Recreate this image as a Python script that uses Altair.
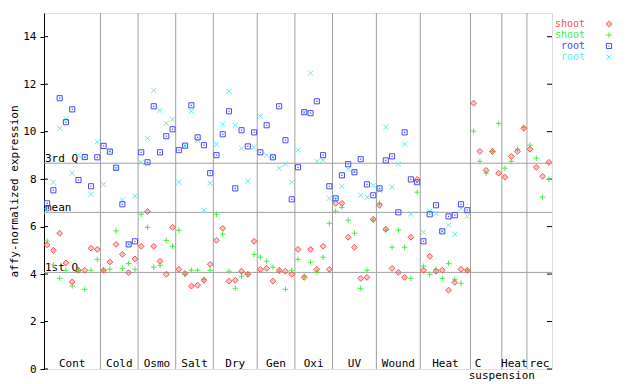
import altair as alt
import pandas as pd

# ---------------- data ----------------
groups = ["Cont", "Cold", "Osmo", "Salt", "Dry", "Gen", "Oxi", "UV",
          "Wound", "Heat", "C", "Heat", "rec"]
counts = [9, 6, 6, 6, 7, 6, 6, 7, 7, 8, 5, 4, 4]

shoot_red = [5.23, 5.00, 5.72, 4.47, 3.67, 4.16, 4.16, 5.09, 5.04,
             4.16, 4.51, 5.25, 4.83, 4.06, 4.64,
             5.17, 6.64, 5.17, 4.54, 3.99, 5.97,
             4.20, 4.03, 3.49, 3.53, 3.74, 4.41,
             5.42, 5.93, 3.70, 3.74, 4.12, 3.99, 5.38,
             4.20, 4.24, 3.70, 4.16, 4.12, 3.99,
             5.04, 3.86, 5.04, 4.20, 5.17, 4.20,
             6.98, 6.98, 5.55, 5.13, 3.82, 3.86, 6.31,
             6.90, 5.89, 4.24, 4.07, 3.86, 5.55, 7.99,
             4.16, 4.75, 4.12, 4.16, 3.32, 3.65, 4.20, 4.16,
             11.20, 9.17, 8.37, 9.17, 8.25,
             8.08, 8.96, 9.17, 10.14,
             9.26, 8.50, 8.12, 8.71]

shoot_green = [5.39, 4.38, 3.82, 4.16, 3.50, 4.16, 3.36, 4.16, 4.62,
               4.16, 4.20, 5.82, 4.24, 4.45, 4.20,
               6.52, 5.97, 4.29, 4.37, 5.42, 5.17,
               5.85, 3.99, 4.16, 4.16, 3.78, 4.16,
               6.52, 5.68, 4.12, 3.40, 3.91, 3.99, 4.83,
               4.71, 4.54, 4.29, 4.12, 3.36, 4.16,
               4.62, 3.91, 4.50, 4.08, 4.71, 6.14,
               6.65, 6.81, 6.27, 5.72, 3.40, 4.16, 6.27,
               6.98, 5.85, 5.13, 5.85, 5.13, 3.82, 7.45,
               4.33, 3.99, 4.20, 3.82, 4.45, 3.78, 3.61, 4.16,
               10.02, 8.75, 8.25, 9.17, 10.35,
               8.46, 8.75, 9.26, 10.19,
               9.43, 8.88, 7.24, 7.99]

root_blue = [6.98, 7.53, 11.41, 10.40, 10.94, 7.96, 8.93, 7.70, 8.92,
             9.40, 9.16, 8.48, 6.94, 5.25, 5.38,
             9.13, 8.71, 11.07, 9.13, 9.81, 10.10,
             9.22, 9.41, 11.11, 9.76, 9.43, 8.25,
             9.01, 9.89, 10.86, 7.61, 10.06, 9.38, 9.97,
             9.13, 10.27, 8.92, 11.07, 9.64, 7.15,
             8.50, 10.82, 10.78, 11.28, 9.01, 7.70,
             7.19, 8.16, 8.63, 8.29, 8.84, 7.78, 7.32,
             7.61, 8.79, 8.96, 6.60, 9.97, 7.99, 7.87,
             5.38, 6.52, 6.90, 5.80, 6.43, 6.48, 6.94, 6.69]

root_cyan = [6.66, 7.87, 10.14, 10.53, 8.25, 9.02, 8.93, 7.36, 9.57,
             7.78, 9.20, 8.45, 7.12, 5.25, 7.28,
             8.71, 9.72, 11.74, 10.90, 10.35, 10.52,
             7.87, 9.41, 10.86, 9.64, 6.69, 7.83,
             9.47, 10.31, 11.70, 10.27, 9.30, 7.91, 9.34,
             10.65, 9.01, 8.92, 8.46, 8.63, 7.87,
             9.22, 10.80, 12.46, 8.75, 8.80, 7.19,
             7.15, 7.70, 8.42, 8.33, 7.32, 7.24, 7.74,
             7.53, 10.19, 7.66, 8.63, 9.47, 6.52, 7.87,
             5.76, 6.65, 6.56, 5.80, 6.06, 5.68, 6.77, 6.43]

q_labels = ["3rd Q", "mean", "1st Q"]
q_values = [8.67, 6.60, 4.07]

y_ticks = [0, 2, 4, 6, 8, 10, 12, 14]
legend_labels = ["shoot", "shoot", "root", "root"]

# ---------------- styling ----------------
FONT = "DejaVu Sans Mono"
FS = 11
W, H = 508, 356
RED, GREEN, BLUE, CYAN = "#ff5050", "#44ee44", "#4848ff", "#55eeee"
GREY = "#a0a0a0"

n_total = sum(counts)
starts, bounds, centers = [], [], []
s = 1
for c in counts:
    starts.append(s)
    centers.append(s + (c - 1) / 2)
    s += c
    bounds.append(s - 0.5)
bounds = bounds[:-1]

xscale = alt.Scale(domain=[0.5, n_total + 0.5], nice=False, zero=False)
yscale = alt.Scale(domain=[0, 15], nice=False, zero=False)

yaxis = alt.Axis(values=y_ticks, tickSize=4, tickColor="black",
                 domainColor="black", grid=False, labelFont=FONT,
                 labelFontSize=FS, labelColor="black", labelPadding=4,
                 title="affy-normalized expression", titleFont=FONT,
                 titleFontSize=FS, titleFontWeight="normal",
                 titleColor="black", titlePadding=3)


def series_df(vals):
    return pd.DataFrame({"i": list(range(1, len(vals) + 1)), "v": vals})


X = alt.X("i:Q", scale=xscale, axis=None)
Y = alt.Y("v:Q", scale=yscale, axis=yaxis)

# vertical group separators
bdf = pd.DataFrame({"i": bounds})
vlines = alt.Chart(bdf).mark_rule(color=GREY, strokeWidth=1).encode(
    x=X, y=alt.value(0), y2=alt.value(H))

# quartile lines
qdf = pd.DataFrame({"v": q_values, "t": q_labels})
hlines = alt.Chart(qdf).mark_rule(color=GREY, strokeWidth=1).encode(
    y=Y, x=alt.value(0), x2=alt.value(W))
qtext = alt.Chart(qdf).mark_text(font=FONT, fontSize=FS, align="left",
                                 baseline="alphabetic", dx=1, dy=-1,
                                 color="black").encode(
    y=Y, x=alt.value(0), text="t:N")

# inward ticks (left and right)
tdf = pd.DataFrame({"v": y_ticks})
lticks = alt.Chart(tdf).mark_rule(color="black").encode(
    y=Y, x=alt.value(0), x2=alt.value(4))
rticks = alt.Chart(tdf).mark_rule(color="black").encode(
    y=Y, x=alt.value(W - 5), x2=alt.value(W))

# group labels
gdf = pd.DataFrame({"i": centers, "g": groups, "v": [0] * len(groups)})
glabels = alt.Chart(gdf).transform_filter("datum.g != 'C'").mark_text(
    font=FONT, fontSize=FS, baseline="alphabetic", dy=-2, color="black").encode(
    x=X, y=Y, text="g:N")
clabel = alt.Chart(gdf).transform_filter("datum.g == 'C'").mark_text(
    font=FONT, fontSize=FS, baseline="alphabetic", dy=-2, dx=-8,
    color="black").encode(x=X, y=Y, text="g:N")
sdf = pd.DataFrame({"i": [bounds[10]], "v": [0], "t": ["suspension"]})
susp = alt.Chart(sdf).mark_text(font=FONT, fontSize=FS, baseline="alphabetic",
                                dy=10, color="black").encode(
    x=X, y=Y, text="t:N")

# data points
PLUS = "M-1,0L1,0M0,-1L0,1"
CROSS = "M-1,-1L1,1M-1,1L1,-1"
red = alt.Chart(series_df(shoot_red)).mark_point(
    shape="diamond", size=34, filled=True, fill=RED, fillOpacity=0.35,
    stroke=RED, strokeWidth=1, opacity=1).encode(x=X, y=Y)
green = alt.Chart(series_df(shoot_green)).mark_point(
    shape=PLUS, size=30, filled=False, color=GREEN, strokeWidth=1,
    opacity=1).encode(x=X, y=Y)
blue = alt.Chart(series_df(root_blue)).mark_point(
    shape="square", size=26, filled=False, color=BLUE, strokeWidth=1,
    opacity=1).encode(x=X, y=Y)
blue_dot = alt.Chart(series_df(root_blue)).mark_point(
    shape="square", size=1.5, filled=True, color=BLUE, opacity=1).encode(x=X, y=Y)
cyan = alt.Chart(series_df(root_cyan)).mark_point(
    shape=CROSS, size=26, filled=False, color=CYAN, strokeWidth=1,
    opacity=1).encode(x=X, y=Y)

# legend (label then symbol, gnuplot style)
leg_colors = [RED, GREEN, BLUE, CYAN]
leg_rows = [11, 22, 33, 44]
legend_layers = []
for lab, col, ry in zip(legend_labels, leg_colors, leg_rows):
    one = pd.DataFrame({"t": [lab]})
    legend_layers.append(alt.Chart(one).mark_text(
        font=FONT, fontSize=10, align="right", baseline="middle",
        color=col).encode(x=alt.value(W + 33), y=alt.value(ry), text="t:N"))
shape_specs = [
    dict(shape="diamond", size=34, filled=True, fill=RED, fillOpacity=0.35,
         stroke=RED, strokeWidth=1),
    dict(shape=PLUS, size=30, filled=False, color=GREEN, strokeWidth=1),
    dict(shape="square", size=26, filled=False, color=BLUE, strokeWidth=1),
    dict(shape=CROSS, size=26, filled=False, color=CYAN, strokeWidth=1),
]
for spec, ry in zip(shape_specs, leg_rows):
    one = pd.DataFrame({"t": ["m"]})
    legend_layers.append(alt.Chart(one).mark_point(opacity=1, **spec).encode(
        x=alt.value(W + 57), y=alt.value(ry)))
legend_layers.append(alt.Chart(pd.DataFrame({"t": ["m"]})).mark_point(
    shape="square", size=1.5, filled=True, color=BLUE, opacity=1).encode(
    x=alt.value(W + 57), y=alt.value(leg_rows[2])))

chart = alt.layer(
    vlines, hlines, qtext, lticks, rticks, glabels, clabel, susp,
    cyan, blue, blue_dot, green, red, *legend_layers
).properties(
    width=W, height=H,
    autosize=alt.AutoSizeParams(type="none"),
    padding={"left": 36, "top": 5, "right": 80, "bottom": 14},
).configure_view(stroke="black", strokeWidth=1).configure(background="white")

chart.save("out.html", embed_options={"renderer": "svg", "actions": False})
